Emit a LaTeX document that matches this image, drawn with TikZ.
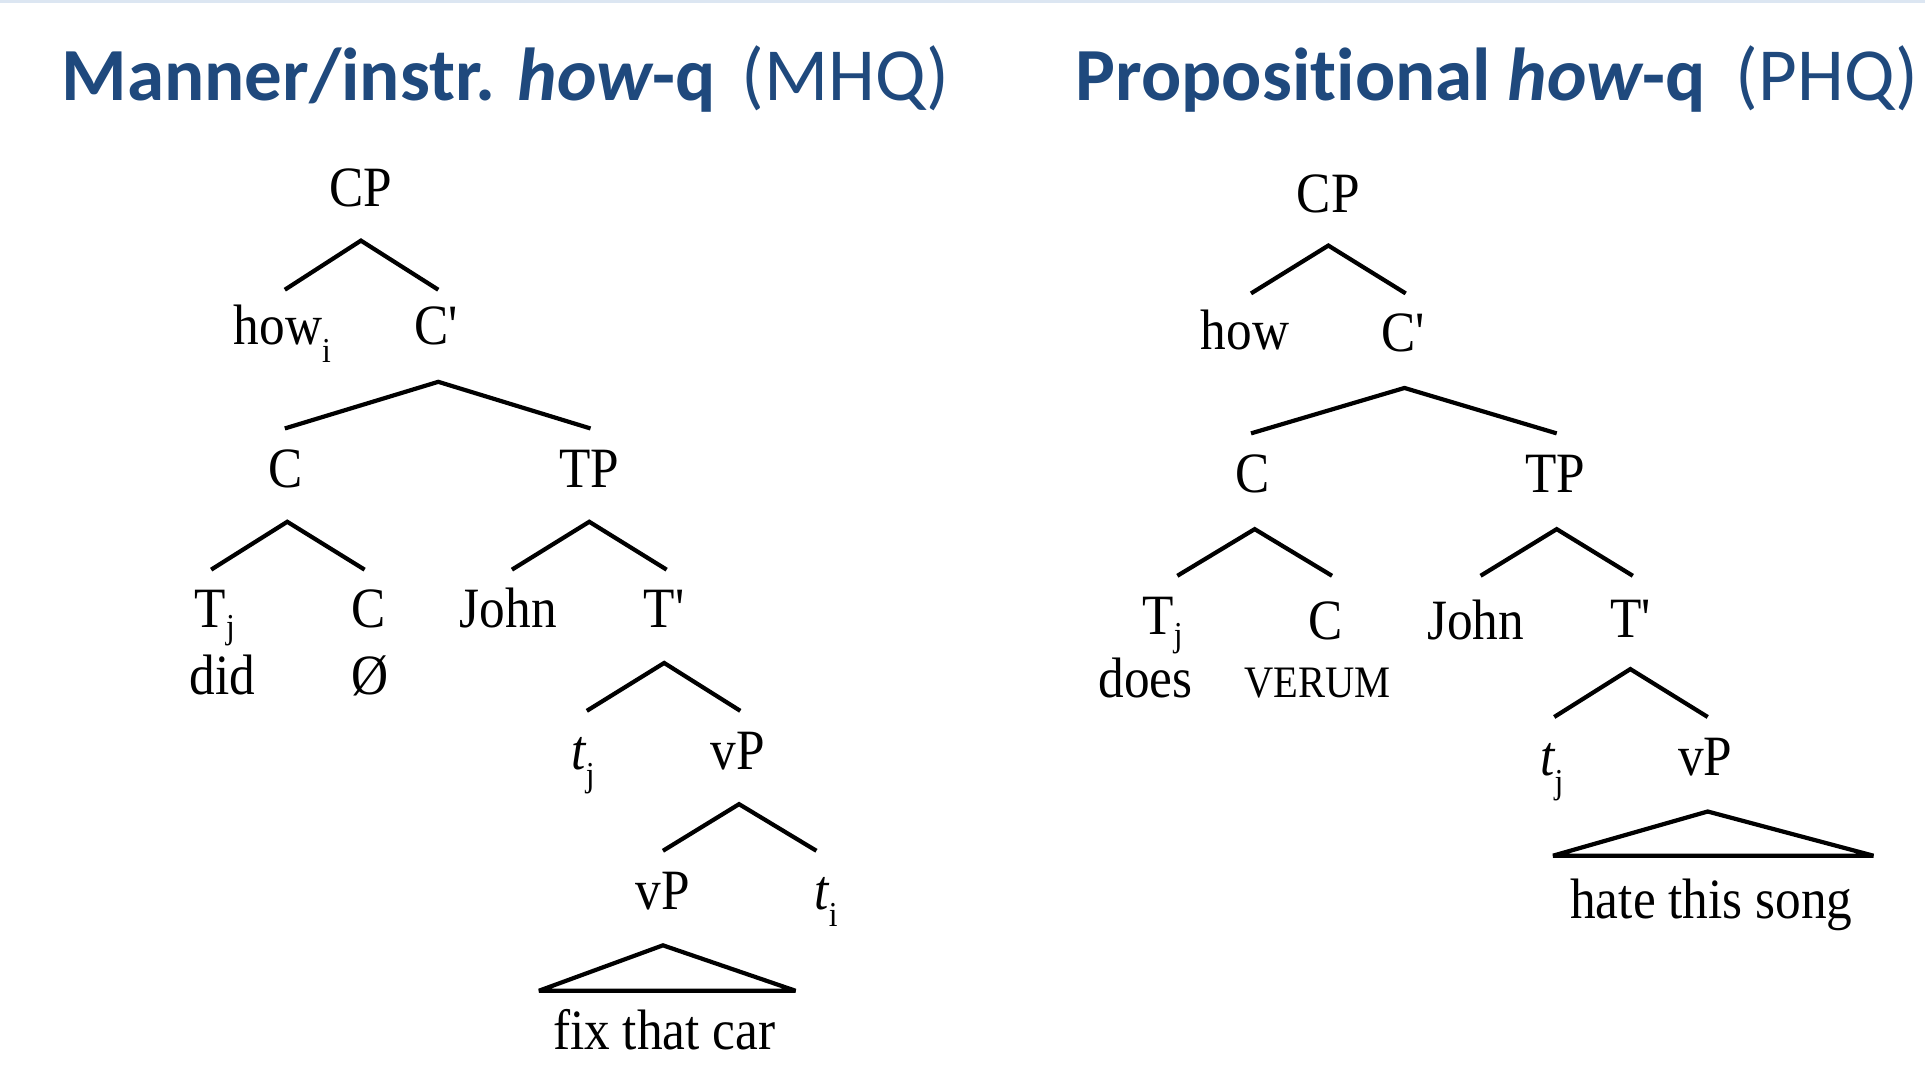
\documentclass[tikz,border=0pt]{standalone}
\usepackage{fontspec}
\setmainfont{Liberation Serif}
\newfontfamily\titlefont[Ligatures=NoCommon]{Carlito}
\newfontfamily\treefont[FakeStretch=0.9,Ligatures=TeXOff]{Liberation Serif}
\definecolor{titleblue}{HTML}{1F497D}
\definecolor{barblue}{HTML}{DCE6F2}
\newcommand\sbj[1]{\raisebox{-0.3em}{\fontsize{35}{35}\selectfont #1}}
\newcommand\sbjhi[1]{\raisebox{-0.2em}{\fontsize{35}{35}\selectfont #1}}
\begin{document}
\begin{tikzpicture}[x=1.2277pt,y=-1.2277pt,
 lab/.style={anchor=base, inner sep=0pt, font=\fontsize{57}{62}\treefont},
 ttl/.style={anchor=base west, inner sep=0pt, font=\fontsize{75}{80}\titlefont, text=titleblue},
 br/.style={line width=4.2pt, line cap=butt, line join=miter, miter limit=4}
]
\useasboundingbox (0,0) rectangle (1568,867);
\fill[barblue] (0,0) rectangle (1568,2.5);

% titles
\node[ttl] (t1) at (50,82) {{\bfseries Manner/instr. {\itshape how}-q}\hspace{26pt}(MHQ)};
\node[ttl] (t2) at (876,82) {{\bfseries Propositional {\itshape how}-q}\hspace{30pt}(PHQ)};

% ---------- left tree ----------
\node[lab] (lcp) at (294,168) {CP};
\node[lab] (lhow) at (230,281) {how\sbj{i}};
\node[lab] (lcbar) at (355,281) {C'};
\node[lab] (lc) at (233,397) {C};
\node[lab] (ltp) at (480,397) {TP};
\node[lab] (ltj) at (175,511) {T\sbjhi{j}};
\node[lab] (lc2) at (300,511) {C};
\node[lab] (ljohn) at (414,511) {John};
\node[lab] (ltbar) at (541,511) {T'};
\node[lab] (ldid) at (181,566) {did};
\node[lab] (lnull) at (301,566) {Ø};
\node[lab] (ltrj) at (475,627) {{\itshape t}\sbj{j}};
\node[lab] (lvp) at (601,627) {vP};
\node[lab] (lvp2) at (540,741) {vP};
\node[lab] (ltri) at (673,741) {{\itshape t}\sbj{i}};
\node[lab] (lfix) at (541,855) {fix that car};

\coordinate (L1) at (294,196); \coordinate (L1l) at (232,236); \coordinate (L1r) at (357,236);
\coordinate (L2) at (357,311); \coordinate (L2l) at (232,349); \coordinate (L2r) at (481,349);
\coordinate (L3) at (234,425); \coordinate (L3l) at (172,464); \coordinate (L3r) at (297,464);
\coordinate (L4) at (480,425); \coordinate (L4l) at (417,464); \coordinate (L4r) at (543,464);
\coordinate (L5) at (541,540); \coordinate (L5l) at (478,579); \coordinate (L5r) at (603,579);
\coordinate (L6) at (602,655); \coordinate (L6l) at (540,693); \coordinate (L6r) at (665,693);
\coordinate (L7) at (540,770); \coordinate (L7l) at (439,807); \coordinate (L7r) at (648,807);
\foreach \n in {L1,L2,L3,L4,L5,L6}{\draw[br] (\n l) -- (\n) -- (\n r);}
\draw[br] (L7) -- (L7l) -- (L7r) -- cycle;

% ---------- right tree ----------
\node[lab] (rcp) at (1082,173) {CP};
\node[lab] (rhow) at (1014,285) {how};
\node[lab] (rcbar) at (1143,286) {C'};
\node[lab] (rc) at (1020,401) {C};
\node[lab] (rtp) at (1267,401) {TP};
\node[lab] (rtj) at (947,517) {T\sbjhi{j}};
\node[lab] (rc2) at (1080,521) {C};
\node[lab] (rjohn) at (1202,521) {John};
\node[lab] (rtbar) at (1328,519) {T'};
\node[lab] (rdoes) at (933,568) {does};
\node[lab, font=\fontsize{45}{48}\treefont] (rverum) at (1073,568) {VERUM};
\node[lab] (rtrj) at (1264,632) {{\itshape t}\sbj{j}};
\node[lab] (rvp) at (1389,632) {vP};
\node[lab] (rhate) at (1394,748) {hate this song};

\coordinate (R1) at (1082,200); \coordinate (R1l) at (1019,239); \coordinate (R1r) at (1145,239);
\coordinate (R2) at (1144,316); \coordinate (R2l) at (1019,353); \coordinate (R2r) at (1268,353);
\coordinate (R3) at (1022,431); \coordinate (R3l) at (959,469); \coordinate (R3r) at (1085,469);
\coordinate (R4) at (1268,431); \coordinate (R4l) at (1206,469); \coordinate (R4r) at (1330,469);
\coordinate (R5) at (1328,545); \coordinate (R5l) at (1266,584); \coordinate (R5r) at (1391,584);
\coordinate (R6) at (1391,661); \coordinate (R6l) at (1265,697); \coordinate (R6r) at (1526,697);
\foreach \n in {R1,R2,R3,R4,R5}{\draw[br] (\n l) -- (\n) -- (\n r);}
\draw[br] (R6) -- (R6l) -- (R6r) -- cycle;
\end{tikzpicture}
\end{document}
